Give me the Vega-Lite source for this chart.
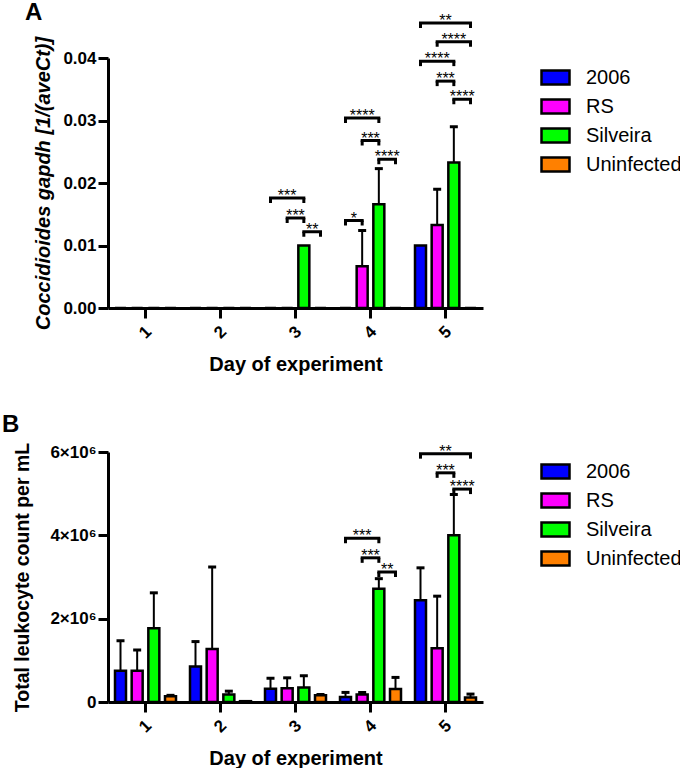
{
  "$schema": "https://vega.github.io/schema/vega-lite/v6.json",
  "padding": {"left": 2, "top": 0, "right": 0, "bottom": 0},
  "config": {
    "font": "Liberation Sans",
    "view": {"stroke": null},
    "axis": {"grid": false, "domainColor": "black", "domainWidth": 3, "tickColor": "black", "tickWidth": 3, "tickSize": 10, "labelColor": "black", "labelFont": "Liberation Sans", "labelFontWeight": "bold", "labelFontSize": 17, "titleFont": "Liberation Sans", "titleFontWeight": "bold", "titleFontSize": 20, "titleColor": "black"},
    "legend": {"symbolType": "M-1,-0.5H1V0.5H-1Z", "symbolSize": 784, "symbolStrokeColor": "black", "symbolStrokeWidth": 2.5, "symbolOpacity": 1, "labelFontSize": 20, "labelFont": "Liberation Sans", "labelColor": "black", "labelOffset": 15, "rowPadding": 1, "offset": 53, "padding": 4},
    "title": {"anchor": "start", "frame": "group", "fontSize": 24, "fontWeight": "bold", "color": "black", "baseline": "alphabetic"}
  },
  "datasets": {
    "barsA": [
      {"day": "1", "group": "2006", "mean": 0, "upper": null},
      {"day": "1", "group": "RS", "mean": 0, "upper": null},
      {"day": "1", "group": "Silveira", "mean": 0, "upper": null},
      {"day": "1", "group": "Uninfected", "mean": 0, "upper": null},
      {"day": "2", "group": "2006", "mean": 0, "upper": null},
      {"day": "2", "group": "RS", "mean": 0, "upper": null},
      {"day": "2", "group": "Silveira", "mean": 0, "upper": null},
      {"day": "2", "group": "Uninfected", "mean": 0, "upper": null},
      {"day": "3", "group": "2006", "mean": 0, "upper": null},
      {"day": "3", "group": "RS", "mean": 0, "upper": null},
      {"day": "3", "group": "Silveira", "mean": 0.0100, "upper": null},
      {"day": "3", "group": "Uninfected", "mean": 0, "upper": null},
      {"day": "4", "group": "2006", "mean": 0, "upper": null},
      {"day": "4", "group": "RS", "mean": 0.0067, "upper": 0.0124},
      {"day": "4", "group": "Silveira", "mean": 0.0166, "upper": 0.0223},
      {"day": "4", "group": "Uninfected", "mean": 0, "upper": null},
      {"day": "5", "group": "2006", "mean": 0.0100, "upper": null},
      {"day": "5", "group": "RS", "mean": 0.0133, "upper": 0.0190},
      {"day": "5", "group": "Silveira", "mean": 0.0233, "upper": 0.0290},
      {"day": "5", "group": "Uninfected", "mean": 0, "upper": null}
    ],
    "barsB": [
      {"day": "1", "group": "2006", "mean": 750000, "upper": 1470000},
      {"day": "1", "group": "RS", "mean": 750000, "upper": 1250000},
      {"day": "1", "group": "Silveira", "mean": 1770000, "upper": 2620000},
      {"day": "1", "group": "Uninfected", "mean": 140000, "upper": 160000},
      {"day": "2", "group": "2006", "mean": 850000, "upper": 1450000},
      {"day": "2", "group": "RS", "mean": 1270000, "upper": 3240000},
      {"day": "2", "group": "Silveira", "mean": 180000, "upper": 260000},
      {"day": "2", "group": "Uninfected", "mean": 20000, "upper": null},
      {"day": "3", "group": "2006", "mean": 320000, "upper": 570000},
      {"day": "3", "group": "RS", "mean": 330000, "upper": 580000},
      {"day": "3", "group": "Silveira", "mean": 350000, "upper": 630000},
      {"day": "3", "group": "Uninfected", "mean": 160000, "upper": 180000},
      {"day": "4", "group": "2006", "mean": 120000, "upper": 230000},
      {"day": "4", "group": "RS", "mean": 180000, "upper": 230000},
      {"day": "4", "group": "Silveira", "mean": 2720000, "upper": 2960000},
      {"day": "4", "group": "Uninfected", "mean": 310000, "upper": 590000},
      {"day": "5", "group": "2006", "mean": 2440000, "upper": 3220000},
      {"day": "5", "group": "RS", "mean": 1290000, "upper": 2540000},
      {"day": "5", "group": "Silveira", "mean": 4000000, "upper": 4980000},
      {"day": "5", "group": "Uninfected", "mean": 110000, "upper": 190000}
    ],
    "bracketsA": [
      {"id": "a1", "day": "3", "group": "2006", "level": 0.0176},
      {"id": "a1", "day": "3", "group": "Silveira", "level": 0.0176},
      {"id": "a2", "day": "3", "group": "RS", "level": 0.0144},
      {"id": "a2", "day": "3", "group": "Silveira", "level": 0.0144},
      {"id": "a3", "day": "3", "group": "Silveira", "level": 0.0122},
      {"id": "a3", "day": "3", "group": "Uninfected", "level": 0.0122},
      {"id": "a4", "day": "4", "group": "2006", "level": 0.0140},
      {"id": "a4", "day": "4", "group": "RS", "level": 0.0140},
      {"id": "a5", "day": "4", "group": "2006", "level": 0.0304},
      {"id": "a5", "day": "4", "group": "Silveira", "level": 0.0304},
      {"id": "a6", "day": "4", "group": "RS", "level": 0.0268},
      {"id": "a6", "day": "4", "group": "Silveira", "level": 0.0268},
      {"id": "a7", "day": "4", "group": "Silveira", "level": 0.0238},
      {"id": "a7", "day": "4", "group": "Uninfected", "level": 0.0238},
      {"id": "a8", "day": "5", "group": "2006", "level": 0.0456},
      {"id": "a8", "day": "5", "group": "Uninfected", "level": 0.0456},
      {"id": "a9", "day": "5", "group": "RS", "level": 0.0426},
      {"id": "a9", "day": "5", "group": "Uninfected", "level": 0.0426},
      {"id": "a10", "day": "5", "group": "2006", "level": 0.0395},
      {"id": "a10", "day": "5", "group": "Silveira", "level": 0.0395},
      {"id": "a11", "day": "5", "group": "RS", "level": 0.0363},
      {"id": "a11", "day": "5", "group": "Silveira", "level": 0.0363},
      {"id": "a12", "day": "5", "group": "Silveira", "level": 0.0334},
      {"id": "a12", "day": "5", "group": "Uninfected", "level": 0.0334}
    ],
    "starsA": [
      {"day": "3", "mid": "RS", "level": 0.0176, "label": "***"},
      {"day": "3", "mid": "RS|Silveira", "level": 0.0144, "label": "***"},
      {"day": "3", "mid": "Silveira|Uninfected", "level": 0.0122, "label": "**"},
      {"day": "4", "mid": "2006|RS", "level": 0.0140, "label": "*"},
      {"day": "4", "mid": "RS", "level": 0.0304, "label": "****"},
      {"day": "4", "mid": "RS|Silveira", "level": 0.0268, "label": "***"},
      {"day": "4", "mid": "Silveira|Uninfected", "level": 0.0238, "label": "****"},
      {"day": "5", "mid": "RS|Silveira", "level": 0.0456, "label": "**"},
      {"day": "5", "mid": "Silveira", "level": 0.0426, "label": "****"},
      {"day": "5", "mid": "RS", "level": 0.0395, "label": "****"},
      {"day": "5", "mid": "RS|Silveira", "level": 0.0363, "label": "***"},
      {"day": "5", "mid": "Silveira|Uninfected", "level": 0.0334, "label": "****"}
    ],
    "bracketsB": [
      {"id": "b1", "day": "4", "group": "2006", "level": 3930000},
      {"id": "b1", "day": "4", "group": "Silveira", "level": 3930000},
      {"id": "b2", "day": "4", "group": "RS", "level": 3460000},
      {"id": "b2", "day": "4", "group": "Silveira", "level": 3460000},
      {"id": "b3", "day": "4", "group": "Silveira", "level": 3120000},
      {"id": "b3", "day": "4", "group": "Uninfected", "level": 3120000},
      {"id": "b4", "day": "5", "group": "2006", "level": 5960000},
      {"id": "b4", "day": "5", "group": "Uninfected", "level": 5960000},
      {"id": "b5", "day": "5", "group": "RS", "level": 5500000},
      {"id": "b5", "day": "5", "group": "Silveira", "level": 5500000},
      {"id": "b6", "day": "5", "group": "Silveira", "level": 5110000},
      {"id": "b6", "day": "5", "group": "Uninfected", "level": 5110000}
    ],
    "starsB": [
      {"day": "4", "mid": "RS", "level": 3930000, "label": "***"},
      {"day": "4", "mid": "RS|Silveira", "level": 3460000, "label": "***"},
      {"day": "4", "mid": "Silveira|Uninfected", "level": 3120000, "label": "**"},
      {"day": "5", "mid": "RS|Silveira", "level": 5960000, "label": "**"},
      {"day": "5", "mid": "RS|Silveira", "level": 5500000, "label": "***"},
      {"day": "5", "mid": "Silveira|Uninfected", "level": 5110000, "label": "****"}
    ]
  },
  "resolve": {"scale": {"color": "independent"}, "legend": {"color": "independent"}},
  "spacing": 38,
  "vconcat": [
    {
      "hconcat": [
        {
          "title": {"text": "A", "offset": -12, "dx": -83},
          "width": 375,
          "height": 250,
          "layer": [
            {
              "data": {"name": "barsA"},
              "mark": {"type": "bar", "width": 11, "stroke": "black", "strokeWidth": 2.5},
              "encoding": {
                "x": {"field": "day", "type": "ordinal", "title": "Day of experiment", "scale": {"domain": ["1", "2", "3", "4", "5"], "paddingInner": 0, "paddingOuter": 0}, "axis": {"labelAngle": -45, "labelAlign": "center", "labelBaseline": "middle", "labelPadding": 14, "titlePadding": 14}},
                "xOffset": {"field": "group", "scale": {"domain": ["2006", "2006|RS", "RS", "RS|Silveira", "Silveira", "Silveira|Uninfected", "Uninfected"], "paddingInner": 0, "paddingOuter": 1.1875}},
                "y": {"field": "mean", "type": "quantitative", "title": "Coccidioides gapdh [1/(aveCt)]", "scale": {"domain": [0, 0.04]}, "axis": {"values": [0, 0.01, 0.02, 0.03, 0.04], "format": ".2f", "labelPadding": 2, "titlePadding": 9, "titleFontStyle": "italic"}},
                "color": {"field": "group", "type": "nominal", "scale": {"domain": ["2006", "RS", "Silveira", "Uninfected"], "range": ["#0000ff", "#ff00ff", "#00ff00", "#ff8000"]}, "legend": {"title": null}}
              }
            },
            {
              "data": {"name": "barsA"},
              "transform": [{"filter": "datum.upper != null"}],
              "mark": {"type": "rule", "color": "black", "strokeWidth": 2},
              "encoding": {
                "x": {"field": "day", "type": "ordinal", "title": "Day of experiment"},
                "xOffset": {"field": "group"},
                "y": {"field": "mean", "type": "quantitative", "title": "Coccidioides gapdh [1/(aveCt)]"},
                "y2": {"field": "upper"}
              }
            },
            {
              "data": {"name": "barsA"},
              "transform": [{"filter": "datum.upper != null"}],
              "mark": {"type": "tick", "orient": "horizontal", "size": 8, "thickness": 3, "color": "black", "opacity": 1},
              "encoding": {
                "x": {"field": "day", "type": "ordinal", "title": "Day of experiment"},
                "xOffset": {"field": "group"},
                "y": {"field": "upper", "type": "quantitative", "title": "Coccidioides gapdh [1/(aveCt)]"}
              }
            },
            {
              "data": {"name": "bracketsA"},
              "mark": {"type": "line", "color": "black", "strokeWidth": 3, "strokeCap": "square"},
              "encoding": {
                "x": {"field": "day", "type": "ordinal", "title": "Day of experiment"},
                "xOffset": {"field": "group"},
                "y": {"field": "level", "type": "quantitative", "title": "Coccidioides gapdh [1/(aveCt)]"},
                "detail": {"field": "id"}
              }
            },
            {
              "data": {"name": "bracketsA"},
              "mark": {"type": "rule", "color": "black", "strokeWidth": 3, "y2Offset": 5},
              "encoding": {
                "x": {"field": "day", "type": "ordinal", "title": "Day of experiment"},
                "xOffset": {"field": "group"},
                "y": {"field": "level", "type": "quantitative", "title": "Coccidioides gapdh [1/(aveCt)]"},
                "y2": {"field": "level"}
              }
            },
            {
              "data": {"name": "starsA"},
              "mark": {"type": "text", "fontSize": 16, "baseline": "alphabetic", "dy": 3, "fill": "black", "color": "black"},
              "encoding": {
                "x": {"field": "day", "type": "ordinal", "title": "Day of experiment"},
                "xOffset": {"field": "mid"},
                "y": {"field": "level", "type": "quantitative", "title": "Coccidioides gapdh [1/(aveCt)]"},
                "text": {"field": "label"}
              }
            }
          ]
        }
      ]
    },
    {
      "hconcat": [
        {
          "title": {"text": "B", "offset": 5, "dx": -106},
          "width": 375,
          "height": 250,
          "layer": [
            {
              "data": {"name": "barsB"},
              "mark": {"type": "bar", "width": 11, "stroke": "black", "strokeWidth": 2.5},
              "encoding": {
                "x": {"field": "day", "type": "ordinal", "title": "Day of experiment", "scale": {"domain": ["1", "2", "3", "4", "5"], "paddingInner": 0, "paddingOuter": 0}, "axis": {"labelAngle": -45, "labelAlign": "center", "labelBaseline": "middle", "labelPadding": 14, "titlePadding": 14}},
                "xOffset": {"field": "group", "scale": {"domain": ["2006", "2006|RS", "RS", "RS|Silveira", "Silveira", "Silveira|Uninfected", "Uninfected"], "paddingInner": 0, "paddingOuter": 1.1875}},
                "y": {"field": "mean", "type": "quantitative", "title": "Total leukocyte count per mL", "scale": {"domain": [0, 6000000]}, "axis": {"values": [0, 2000000, 4000000, 6000000], "labelExpr": "datum.value == 0 ? '0' : format(datum.value / 1000000, 'd') + '×10⁶'", "labelPadding": 2, "titlePadding": 17, "titleFontSize": 19.5}},
                "color": {"field": "group", "type": "nominal", "scale": {"domain": ["2006", "RS", "Silveira", "Uninfected"], "range": ["#0000ff", "#ff00ff", "#00ff00", "#ff8000"]}, "legend": {"title": null}}
              }
            },
            {
              "data": {"name": "barsB"},
              "transform": [{"filter": "datum.upper != null"}],
              "mark": {"type": "rule", "color": "black", "strokeWidth": 2},
              "encoding": {
                "x": {"field": "day", "type": "ordinal", "title": "Day of experiment"},
                "xOffset": {"field": "group"},
                "y": {"field": "mean", "type": "quantitative", "title": "Total leukocyte count per mL"},
                "y2": {"field": "upper"}
              }
            },
            {
              "data": {"name": "barsB"},
              "transform": [{"filter": "datum.upper != null"}],
              "mark": {"type": "tick", "orient": "horizontal", "size": 8, "thickness": 3, "color": "black", "opacity": 1},
              "encoding": {
                "x": {"field": "day", "type": "ordinal", "title": "Day of experiment"},
                "xOffset": {"field": "group"},
                "y": {"field": "upper", "type": "quantitative", "title": "Total leukocyte count per mL"}
              }
            },
            {
              "data": {"name": "bracketsB"},
              "mark": {"type": "line", "color": "black", "strokeWidth": 3, "strokeCap": "square"},
              "encoding": {
                "x": {"field": "day", "type": "ordinal", "title": "Day of experiment"},
                "xOffset": {"field": "group"},
                "y": {"field": "level", "type": "quantitative", "title": "Total leukocyte count per mL"},
                "detail": {"field": "id"}
              }
            },
            {
              "data": {"name": "bracketsB"},
              "mark": {"type": "rule", "color": "black", "strokeWidth": 3, "y2Offset": 5},
              "encoding": {
                "x": {"field": "day", "type": "ordinal", "title": "Day of experiment"},
                "xOffset": {"field": "group"},
                "y": {"field": "level", "type": "quantitative", "title": "Total leukocyte count per mL"},
                "y2": {"field": "level"}
              }
            },
            {
              "data": {"name": "starsB"},
              "mark": {"type": "text", "fontSize": 16, "baseline": "alphabetic", "dy": 3, "fill": "black", "color": "black"},
              "encoding": {
                "x": {"field": "day", "type": "ordinal", "title": "Day of experiment"},
                "xOffset": {"field": "mid"},
                "y": {"field": "level", "type": "quantitative", "title": "Total leukocyte count per mL"},
                "text": {"field": "label"}
              }
            }
          ]
        }
      ]
    }
  ]
}
